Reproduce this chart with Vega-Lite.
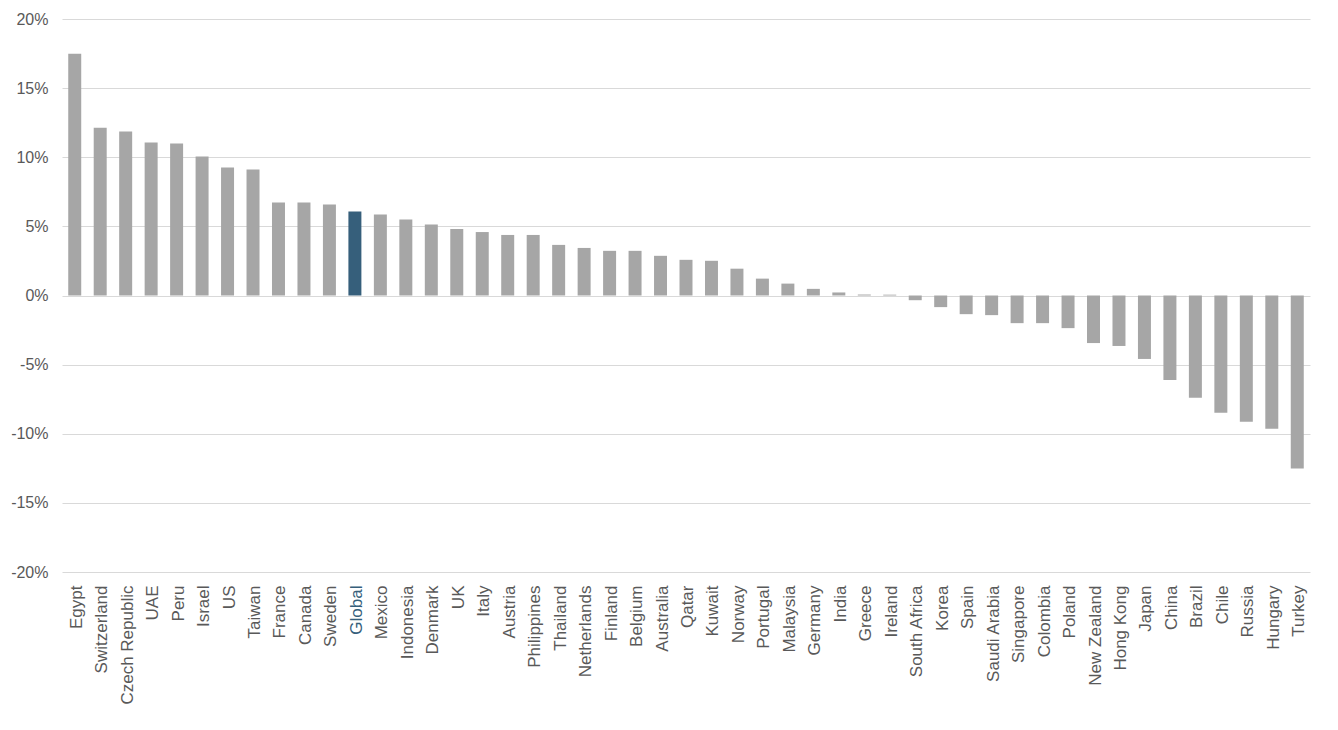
{
  "$schema": "https://vega.github.io/schema/vega-lite/v6.json",
  "width": 1248,
  "height": 553,
  "autosize": {"type": "none"},
  "padding": {"left": 62, "top": 19, "right": 28, "bottom": 158},
  "background": "white",
  "config": {"view": {"stroke": null}, "font": "Liberation Sans"},
  "data": {
    "values": [
      {"country": "Egypt", "value": 0.1749},
      {"country": "Switzerland", "value": 0.1214},
      {"country": "Czech Republic", "value": 0.1186},
      {"country": "UAE", "value": 0.1106},
      {"country": "Peru", "value": 0.1099},
      {"country": "Israel", "value": 0.1005},
      {"country": "US", "value": 0.0925},
      {"country": "Taiwan", "value": 0.0911},
      {"country": "France", "value": 0.0672},
      {"country": "Canada", "value": 0.0672},
      {"country": "Sweden", "value": 0.0658},
      {"country": "Global", "value": 0.0607},
      {"country": "Mexico", "value": 0.0586},
      {"country": "Indonesia", "value": 0.0549},
      {"country": "Denmark", "value": 0.0513},
      {"country": "UK", "value": 0.0481},
      {"country": "Italy", "value": 0.0459},
      {"country": "Austria", "value": 0.0438},
      {"country": "Philippines", "value": 0.0438},
      {"country": "Thailand", "value": 0.0366},
      {"country": "Netherlands", "value": 0.0344},
      {"country": "Finland", "value": 0.0323},
      {"country": "Belgium", "value": 0.0323},
      {"country": "Australia", "value": 0.0287},
      {"country": "Qatar", "value": 0.0258},
      {"country": "Kuwait", "value": 0.0251},
      {"country": "Norway", "value": 0.0194},
      {"country": "Portugal", "value": 0.0122},
      {"country": "Malaysia", "value": 0.0086},
      {"country": "Germany", "value": 0.0048},
      {"country": "India", "value": 0.0022},
      {"country": "Greece", "value": 0.0007},
      {"country": "Ireland", "value": 0.0006},
      {"country": "South Africa", "value": -0.0034},
      {"country": "Korea", "value": -0.0084},
      {"country": "Spain", "value": -0.0135},
      {"country": "Saudi Arabia", "value": -0.0142},
      {"country": "Singapore", "value": -0.0200},
      {"country": "Colombia", "value": -0.0200},
      {"country": "Poland", "value": -0.0236},
      {"country": "New Zealand", "value": -0.0344},
      {"country": "Hong Kong", "value": -0.0365},
      {"country": "Japan", "value": -0.0459},
      {"country": "China", "value": -0.0611},
      {"country": "Brazil", "value": -0.0740},
      {"country": "Chile", "value": -0.0849},
      {"country": "Russia", "value": -0.0913},
      {"country": "Hungary", "value": -0.0964},
      {"country": "Turkey", "value": -0.1252}
    ]
  },
  "mark": {"type": "bar"},
  "encoding": {
    "x": {
      "field": "country",
      "type": "nominal",
      "sort": null,
      "scale": {"paddingInner": 0.49, "paddingOuter": 0.245},
      "axis": {
        "title": null,
        "labelAngle": -90,
        "labelAlign": "right",
        "labelBaseline": "middle",
        "labelFontSize": 17,
        "labelPadding": 13,
        "labelOffset": 2,
        "labelColor": {"condition": {"test": "datum.value === 'Global'", "value": "#365f7b"}, "value": "#595959"},
        "ticks": false,
        "domain": false,
        "grid": false
      }
    },
    "y": {
      "field": "value",
      "type": "quantitative",
      "scale": {"domain": [-0.2, 0.2], "nice": false, "zero": false},
      "axis": {
        "title": null,
        "values": [-0.2, -0.15, -0.1, -0.05, 0, 0.05, 0.1, 0.15, 0.2],
        "labelExpr": "replace(format(datum.value, '.0%'), '\u2212', '-')",
        "labelFontSize": 16,
        "labelColor": "#595959",
        "labelPadding": 14,
        "ticks": false,
        "domain": false,
        "grid": true,
        "gridColor": "#d9d9d9",
        "gridWidth": 1
      }
    },
    "color": {
      "condition": {"test": "datum.country === 'Global'", "value": "#365f7b"},
      "value": "#a6a6a6"
    }
  }
}
